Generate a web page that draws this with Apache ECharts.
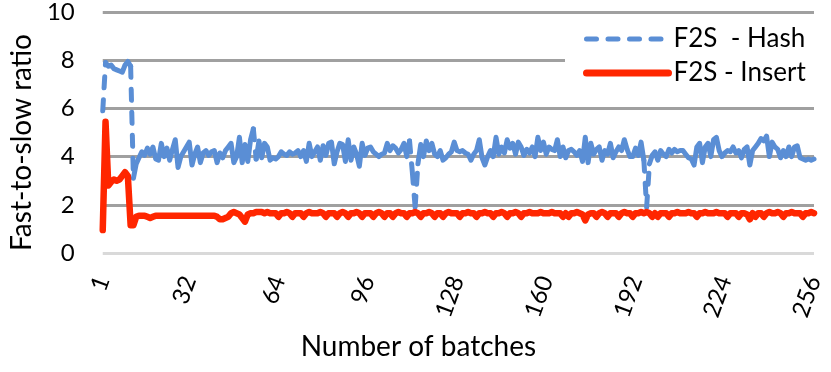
<!DOCTYPE html>
<html>
<head>
<meta charset="utf-8">
<script src="https://cdn.jsdelivr.net/npm/echarts@6/dist/echarts.min.js"></script>
<style>
  html, body { margin: 0; padding: 0; background: #fff; }
  #chart { width: 831px; height: 372px; }
</style>
</head>
<body>
<div id="chart"></div>
<script>
// Batch numbers 1..256 (x positions)
const batches = [];
for (let b = 1; b <= 256; b++) batches.push(b);

const xTickLabels = [1, 32, 64, 96, 128, 160, 192, 224, 256];
const yTickValues = [0, 2, 4, 6, 8, 10];

const seriesNames = ['F2S  - Hash', 'F2S - Insert'];

const hashValues = [
  5.9, 7.9, 7.75, 7.8, 7.65, 7.6, 7.55, 7.5, 7.8, 7.95,
  7.75, 3.1, 3.7, 3.95, 4.2, 4.05, 4.35, 4.1, 4.4, 3.9,
  3.85, 4.55, 4.0, 4.35, 3.85, 4.3, 4.7, 3.55, 4.0, 4.2,
  4.4, 4.6, 3.65, 4.1, 4.4, 3.75, 4.15, 4.25, 4.05, 4.2,
  4.25, 3.75, 4.15, 3.95, 4.25, 4.4, 4.55, 3.75, 4.0, 4.8,
  3.75, 4.5, 3.8, 4.7, 5.15, 3.9, 4.65, 3.95, 4.55, 4.4,
  3.85, 3.95, 3.9, 4.0, 4.2, 4.1, 4.05, 4.2, 4.1, 4.15,
  4.25, 4.0, 4.25, 3.8, 4.55, 4.0, 4.2, 4.4, 3.85, 4.45,
  4.05, 4.55, 4.6, 3.7, 4.2, 4.55, 4.5, 3.8, 4.7, 3.85,
  4.4, 4.1, 3.6, 4.55, 4.05, 4.35, 4.4, 4.2, 4.1, 4.0,
  4.1, 4.15, 4.55, 4.25, 4.45, 4.35, 4.15, 4.3, 4.55, 4.0,
  4.65, 3.35, 1.9, 3.7, 4.5, 4.0, 4.65, 4.25, 4.55, 4.1,
  4.0, 4.25, 3.85, 3.95, 4.1, 4.2, 4.6, 4.25, 4.2, 4.25,
  4.15, 4.1, 3.85, 4.1, 4.25, 4.7, 3.95, 3.65, 4.0, 4.25,
  4.0, 4.8, 4.1, 4.4, 4.15, 4.7, 4.35, 4.55, 4.1, 4.6,
  4.4, 4.05, 4.3, 4.15, 4.4, 4.0, 4.8, 4.25, 4.6, 4.1,
  4.4, 4.3, 4.25, 4.7, 4.0, 4.4, 3.95, 4.25, 4.3, 4.2,
  4.05, 4.25, 3.8, 4.8, 3.75, 4.55, 4.1, 4.3, 4.4, 3.85,
  4.25, 4.1, 4.55, 3.95, 4.2, 4.4, 4.25, 4.7, 4.3, 4.0,
  4.0, 4.35, 4.05, 4.6, 3.85, 1.9, 3.7, 4.05, 4.2, 3.85,
  4.25, 4.1, 4.0, 4.3, 4.15, 4.3, 4.2, 4.25, 4.25, 4.1,
  3.95, 3.9, 3.65, 4.4, 4.55, 3.75, 4.4, 4.55, 4.0, 4.7,
  4.8, 4.25, 4.0, 4.15, 4.25, 4.2, 4.4, 4.15, 4.25, 3.95,
  4.3, 4.4, 3.65, 4.25, 4.4, 4.55, 4.75, 4.65, 4.85, 4.0,
  4.6, 4.4, 4.3, 3.95, 4.25, 4.0, 4.4, 4.0, 4.4, 4.45,
  3.95, 3.9, 3.85, 3.9, 3.85, 3.9
];

const insertValues = [
  0.95, 5.45, 2.8, 2.95, 3.05, 3.0, 3.05, 3.2, 3.35, 3.2,
  1.15, 1.15, 1.5, 1.55, 1.55, 1.55, 1.5, 1.45, 1.5, 1.55,
  1.55, 1.55, 1.55, 1.55, 1.55, 1.55, 1.55, 1.55, 1.55, 1.55,
  1.55, 1.55, 1.55, 1.55, 1.55, 1.55, 1.55, 1.55, 1.55, 1.55,
  1.55, 1.5, 1.4, 1.4, 1.45, 1.5, 1.65, 1.7, 1.65, 1.6,
  1.45, 1.3, 1.6, 1.65, 1.65, 1.7, 1.7, 1.7, 1.65, 1.7,
  1.65, 1.65, 1.65, 1.5, 1.65, 1.65, 1.7, 1.65, 1.5, 1.65,
  1.65, 1.65, 1.5, 1.65, 1.7, 1.65, 1.65, 1.65, 1.7, 1.65,
  1.5, 1.65, 1.65, 1.65, 1.5, 1.65, 1.7, 1.65, 1.5, 1.65,
  1.65, 1.7, 1.65, 1.5, 1.65, 1.65, 1.65, 1.5, 1.65, 1.7,
  1.65, 1.5, 1.65, 1.65, 1.5, 1.65, 1.7, 1.65, 1.65, 1.5,
  1.65, 1.65, 1.7, 1.65, 1.5, 1.65, 1.65, 1.7, 1.65, 1.5,
  1.65, 1.65, 1.5, 1.65, 1.7, 1.65, 1.65, 1.65, 1.5, 1.65,
  1.65, 1.7, 1.65, 1.65, 1.5, 1.65, 1.65, 1.7, 1.65, 1.65,
  1.5, 1.65, 1.65, 1.7, 1.65, 1.5, 1.65, 1.65, 1.7, 1.65,
  1.5, 1.65, 1.65, 1.7, 1.65, 1.65, 1.65, 1.7, 1.65, 1.65,
  1.65, 1.7, 1.65, 1.65, 1.65, 1.5, 1.65, 1.5, 1.65, 1.65,
  1.7, 1.65, 1.6, 1.35, 1.6, 1.65, 1.65, 1.5, 1.65, 1.7,
  1.65, 1.5, 1.65, 1.65, 1.65, 1.5, 1.65, 1.7, 1.65, 1.65,
  1.5, 1.65, 1.65, 1.7, 1.65, 1.7, 1.65, 1.5, 1.65, 1.5,
  1.65, 1.65, 1.65, 1.5, 1.65, 1.65, 1.7, 1.65, 1.65, 1.65,
  1.7, 1.65, 1.65, 1.5, 1.65, 1.65, 1.7, 1.65, 1.65, 1.65,
  1.7, 1.65, 1.65, 1.65, 1.5, 1.65, 1.65, 1.65, 1.5, 1.65,
  1.65, 1.6, 1.4, 1.65, 1.5, 1.65, 1.65, 1.5, 1.65, 1.7,
  1.65, 1.65, 1.7, 1.65, 1.5, 1.65, 1.65, 1.7, 1.65, 1.65,
  1.65, 1.5, 1.65, 1.65, 1.7, 1.65
];

// Excel restarts the dash pattern on every segment, so short segments look
// solid and only long jumps look dashed. Split the Hash line accordingly.
const LONG_STEP = 1.2;
const hashSolid = [];
const hashDashed = [];
for (let i = 0; i < hashValues.length; i++) {
  hashSolid.push([batches[i], hashValues[i]]);
  if (i < hashValues.length - 1 && Math.abs(hashValues[i + 1] - hashValues[i]) > LONG_STEP) {
    hashSolid.push([batches[i] + 0.5, null]);
    hashDashed.push([batches[i], hashValues[i]]);
    hashDashed.push([batches[i + 1], hashValues[i + 1]]);
    hashDashed.push([batches[i + 1] + 0.01, null]);
  }
}
const insertData = batches.map((b, i) => [b, insertValues[i]]);

const FONT = 'Lato';
const BLUE = '#5a8ed5';
const RED = '#ff2600';
const chart = echarts.init(document.getElementById('chart'), null, { renderer: 'canvas' });

chart.setOption({
  animation: false,
  backgroundColor: '#ffffff',
  textStyle: { fontFamily: FONT, color: '#000' },
  grid: { left: 94, right: 17, top: 10, bottom: 119, containLabel: false },
  legend: {
    data: [
      { name: seriesNames[0], lineStyle: { color: BLUE, width: 5, type: [10, 11.5], cap: 'round' } },
      { name: seriesNames[1], lineStyle: { color: RED, width: 7, cap: 'round' } }
    ],
    orient: 'vertical',
    left: 565,
    top: 20,
    backgroundColor: '#ffffff',
    padding: [6, 12, 6, 18],
    itemWidth: 82,
    itemHeight: 8,
    itemGap: 8,
    itemStyle: { opacity: 0 },
    textStyle: { fontFamily: FONT, fontSize: 26, color: '#000' }
  },
  xAxis: {
    type: 'value',
    min: batches[0],
    max: batches[batches.length - 1],
    name: 'Number of batches',
    nameLocation: 'middle',
    nameGap: 80,
    nameTextStyle: { fontFamily: FONT, fontSize: 28, color: '#000', padding: [0, 80, 0, 0] },
    axisLine: { show: false },
    axisTick: { show: false },
    axisLabel: {
      customValues: xTickLabels,
      showMinLabel: true,
      showMaxLabel: true,
      rotate: 70,
      margin: 24,
      fontFamily: FONT,
      fontSize: 24,
      color: '#000'
    },
    splitLine: { show: false }
  },
  yAxis: {
    type: 'value',
    min: yTickValues[0],
    max: yTickValues[yTickValues.length - 1],
    interval: 2,
    name: 'Fast-to-slow ratio',
    nameLocation: 'middle',
    nameGap: 62,
    nameTextStyle: { fontFamily: FONT, fontSize: 28, color: '#000', padding: [0, 20, 0, 0] },
    axisLine: { show: false },
    axisTick: { show: false },
    axisLabel: { margin: 28, fontFamily: FONT, fontSize: 24, color: '#000' },
    splitLine: {
      show: true,
      lineStyle: { color: ['#d9d9d9', '#a0a0a0', '#a0a0a0', '#a0a0a0', '#a0a0a0', '#a0a0a0'], width: 3 }
    }
  },
  series: [
    {
      name: seriesNames[0],
      type: 'line',
      data: hashDashed,
      symbol: 'none',
      connectNulls: false,
      lineStyle: { color: BLUE, width: 5, type: [11, 12], cap: 'round', join: 'round' },
      itemStyle: { color: BLUE },
      z: 2
    },
    {
      name: seriesNames[0],
      type: 'line',
      data: hashSolid,
      symbol: 'none',
      connectNulls: false,
      lineStyle: { color: BLUE, width: 5, type: 'solid', cap: 'round', join: 'round' },
      itemStyle: { color: BLUE },
      z: 2
    },
    {
      name: seriesNames[1],
      type: 'line',
      data: insertData,
      symbol: 'none',
      lineStyle: { color: RED, width: 6.5, cap: 'round', join: 'round' },
      itemStyle: { color: RED },
      z: 3
    }
  ]
});
</script>
</body>
</html>
